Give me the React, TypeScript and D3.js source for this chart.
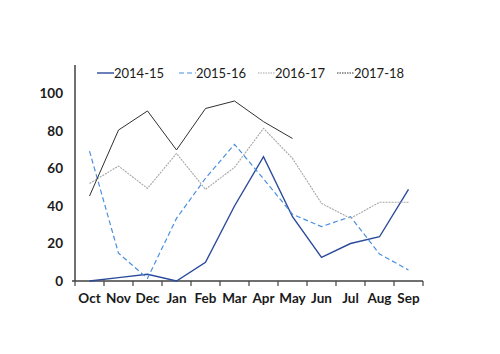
import React, { useEffect, useRef } from 'react';
import * as d3 from 'd3';

const months = ['Oct', 'Nov', 'Dec', 'Jan', 'Feb', 'Mar', 'Apr', 'May', 'Jun', 'Jul', 'Aug', 'Sep'];
const yTicks = [0, 20, 40, 60, 80, 100];

const s2014: (number | null)[] = [0, 1.8, 3.6, 0, 10, 40, 66.3, 34.3, 12.6, 20, 23.6, 48.9];
const s2015: (number | null)[] = [69.3, 14.8, 1.4, 33.4, 54.8, 72.9, 54.5, 35.6, 29, 34.3, 14.4, 5.9];
const s2016: (number | null)[] = [52, 61.3, 49.4, 68, 48.9, 60.6, 81.4, 65.4, 41.4, 33.4, 42, 42];
const s2017: (number | null)[] = [45.3, 80.5, 90.7, 69.9, 92, 96, 85, 76, null, null, null, null];

const seriesNames = ['2014-15', '2015-16', '2016-17', '2017-18'];
const seriesValues = [s2014, s2015, s2016, s2017];
const colors = ['#2a4a9a', '#4a8fe0', '#a6a6a6', '#303030'];
const dashes = ['none', '5,3', '2,1', 'none'];
const legendDashes = ['none', '5,3', '1.5,1', '1.5,1'];
const widths = [1.4, 1.2, 1.1, 1];

export default function App() {
  const ref = useRef<SVGSVGElement>(null);

  useEffect(() => {
    const el = ref.current;
    if (!el) return;
    const svg = d3.select(el);
    svg.selectAll('*').remove();

    const left = 75, right = 423, top = 65, bottom = 281;
    const x = d3.scaleBand<string>().domain(months).range([left, right]);
    const y = d3.scaleLinear().domain([0, 115.2]).range([bottom, top]);
    const font = 'Lato, "Open Sans", sans-serif';

    // axes lines
    svg.append('line')
      .attr('x1', left).attr('x2', left).attr('y1', top).attr('y2', bottom)
      .attr('stroke', '#404040').attr('stroke-width', 1.5);
    svg.append('line')
      .attr('x1', left - 3).attr('x2', right).attr('y1', bottom).attr('y2', bottom)
      .attr('stroke', '#404040').attr('stroke-width', 1.5);

    // x ticks at band edges
    const edges = months.map(m => x(m) as number).concat([right]);
    svg.selectAll('.xt').data(edges).enter().append('line')
      .attr('x1', d => d).attr('x2', d => d)
      .attr('y1', bottom).attr('y2', bottom + 5)
      .attr('stroke', '#404040').attr('stroke-width', 1.2);

    svg.selectAll('.xl').data(months).enter().append('text')
      .attr('x', d => (x(d) as number) + x.bandwidth() / 2)
      .attr('y', 303)
      .attr('text-anchor', 'middle')
      .style('font-family', font).style('font-size', '13.5px').style('font-weight', 'bold')
      .attr('fill', '#1a1a1a')
      .text(d => d);

    svg.selectAll('.yl').data(yTicks).enter().append('text')
      .attr('x', 63)
      .attr('y', d => y(d))
      .attr('dy', '0.35em')
      .attr('text-anchor', 'end')
      .style('font-family', font).style('font-size', '13.5px').style('font-weight', 'bold')
      .attr('fill', '#1a1a1a')
      .text(d => d);

    const line = d3.line<number | null>()
      .defined(d => d !== null)
      .x((_, i) => (x(months[i]) as number) + x.bandwidth() / 2)
      .y(d => y(d as number));

    seriesValues.forEach((vals, i) => {
      svg.append('path')
        .attr('d', line(vals) as string)
        .attr('fill', 'none')
        .attr('stroke', colors[i])
        .attr('stroke-width', widths[i])
        .attr('stroke-dasharray', dashes[i]);
    });

    // legend
    const legendX = [97, 179, 258, 337];
    seriesNames.forEach((name, i) => {
      const g = svg.append('g').attr('transform', `translate(${legendX[i]},73)`);
      g.append('line')
        .attr('x1', 0).attr('x2', 17).attr('y1', 0).attr('y2', 0)
        .attr('stroke', colors[i]).attr('stroke-width', widths[i])
        .attr('stroke-dasharray', legendDashes[i]);
      g.append('text')
        .attr('x', 17).attr('y', 0).attr('dy', '0.35em')
        .style('font-family', font).style('font-size', '13px')
        .attr('fill', '#1a1a1a')
        .text(name);
    });
  }, []);

  return (
    <div style={{ position: 'absolute', left: 0, top: 0 }}>
      <svg ref={ref} width={500} height={354} style={{ display: 'block', background: '#fff' }} />
    </div>
  );
}
